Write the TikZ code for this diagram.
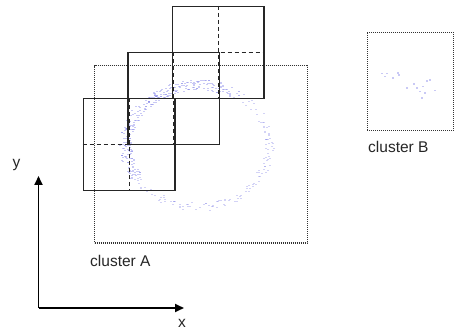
\documentclass[tikz,border=0pt]{standalone}
\usepackage{fontspec}
\setmainfont{Liberation Sans}
\usetikzlibrary{arrows.meta}
\begin{document}
\begin{tikzpicture}[x=1pt,y=-1pt,
  sq/.style={draw=black!85,line width=1.3pt},
  ctr/.style={draw=black!85,line width=1.2pt,dash pattern=on 4pt off 3pt},
  clus/.style={draw=black!80,line width=1.2pt,dash pattern=on 0.9pt off 1.1pt},
  axis/.style={draw=black,line width=1.7pt,-{Triangle[length=9pt,width=8pt]}},
  lbl/.style={inner sep=0pt,font=\fontsize{15.5}{18}\selectfont,text=black!85},
  pt/.style={fill={rgb,255:red,120;green,120;blue,230},opacity=0.4}]
\useasboundingbox (0,0) rectangle (455,331);
\fill[white] (0,0) rectangle (455,331);
% scatter ring of cluster A
\pgfmathsetseed{11}
\foreach \i in {1,...,300}{
  \pgfmathsetmacro\t{150+150*rnd}
  \pgfmathsetmacro\r{1+0.17*(rnd-0.5)}
  \pgfmathsetmacro\px{198+72*\r*cos(\t)}
  \pgfmathsetmacro\py{146+61*\r*sin(\t)}
  \fill[pt] (\px-1,\py-0.5) rectangle (\px+1,\py+0.5);
}
\foreach \i in {1,...,140}{
  \pgfmathsetmacro\t{-60+210*rnd}
  \pgfmathsetmacro\r{1+0.13*(rnd-0.5)}
  \pgfmathsetmacro\px{198+72*\r*cos(\t)}
  \pgfmathsetmacro\py{146+61*\r*sin(\t)}
  \fill[pt,opacity=0.32] (\px-1,\py-0.5) rectangle (\px+1,\py+0.5);
}
% scatter of cluster B
\foreach \px/\py in {381.7/73.3,385/76.7,386.7/73.3,393/78,398/73,399/75,406.7/88,416.7/88,423/86.7,430/80,427/81,435/90.7,425/93,420/91.7,421.7/98,414/84}{
  \fill[pt] (\px-1,\py-0.6) rectangle (\px+1,\py+0.6);
}
% clusters
\node[clus,minimum width=212.7pt,minimum height=177.3pt,inner sep=0pt,anchor=north west] (clA) at (94,65) {};
\node[clus,minimum width=86.3pt,minimum height=98.3pt,inner sep=0pt,anchor=north west] (clB) at (366.7,31.7) {};
\node[lbl,anchor=base west] (labA) at (90,266) {cluster A};
\node[lbl,anchor=base west] (labB) at (368,153) {cluster B};
% squares
\node[sq,minimum size=91.7pt,inner sep=0pt,anchor=north west] (s1) at (82.7,98) {};
\node[sq,minimum size=91.7pt,inner sep=0pt,anchor=north west] (s2) at (127.3,52) {};
\node[sq,minimum size=91.7pt,inner sep=0pt,anchor=north west] (s3) at (171.7,6) {};
\foreach \s in {s1,s2,s3}{
  \draw[ctr] (\s.north) -- (\s.south);
  \draw[ctr] (\s.west) -- (\s.east);
}
% axes
\coordinate (o) at (38.5,308);
\coordinate (ytip) at (38.5,176);
\coordinate (xtip) at (184,308);
\draw[axis] (o) -- (ytip);
\draw[axis] (o) -- (xtip);
\node[lbl,anchor=base west] (ylab) at (12.5,168) {y};
\node[lbl,anchor=base west] (xlab) at (178,327) {x};
\end{tikzpicture}
\end{document}
